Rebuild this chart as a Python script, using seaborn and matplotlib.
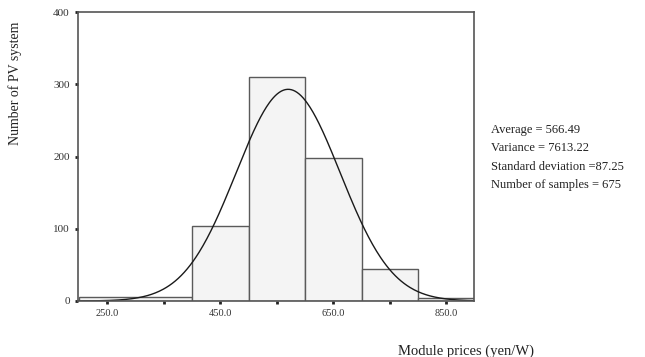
import numpy as np
import pandas as pd
import matplotlib
matplotlib.use("Agg")
import matplotlib.pyplot as plt
import seaborn as sns

# ---- data ----
bin_edges = [200, 400, 500, 600, 700, 800, 900]
bin_counts = [6, 104, 310, 198, 44, 4]
x_major_ticks = [250, 450, 650, 850]
x_tick_labels = ["250.0", "450.0", "650.0", "850.0"]
x_minor_ticks = [350, 550, 750]
y_ticks = [0, 100, 200, 300, 400]
stats_lines = ["Average = 566.49", "Variance = 7613.22",
               "Standard deviation =87.25", "Number of samples = 675"]
curve_center = 570.0
curve_sd = 92.0
curve_peak = 293.0

sns.set_theme(style="white")
plt.rcParams["font.family"] = ["Liberation Serif", "DejaVu Serif"]

fig = plt.figure(figsize=(6.45, 3.57), dpi=100)
ax = fig.add_axes([78 / 645, 1 - 301 / 357, (474 - 78) / 645, (301 - 12) / 357])

centers = [(a + b) / 2 for a, b in zip(bin_edges[:-1], bin_edges[1:])]
df = pd.DataFrame({"price": centers, "count": bin_counts})
sns.histplot(data=df, x="price", weights="count", bins=bin_edges, ax=ax,
             color="#f4f4f4", edgecolor="#5a5a5a", linewidth=1.0, alpha=1.0)

xs = np.linspace(200, 900, 400)
ys = curve_peak * np.exp(-((xs - curve_center) ** 2) / (2 * curve_sd ** 2))
sns.lineplot(x=xs, y=ys, ax=ax, color="#1a1a1a", linewidth=1.0)

ax.set_xlim(198, 899)
ax.set_ylim(0, 400)
ax.set_xticks(x_major_ticks)
ax.set_xticklabels(x_tick_labels)
ax.set_xticks(x_minor_ticks, minor=True)
ax.set_yticks(y_ticks)
ax.set_yticklabels([str(v) for v in y_ticks])
ax.tick_params(axis="both", which="both", direction="out", length=2, width=2,
               color="#222222", labelcolor="#333333",
               bottom=True, left=True)
ax.tick_params(axis="x", labelsize=7.5, pad=4)
ax.tick_params(axis="y", labelsize=8, pad=4)
for s in ax.spines.values():
    s.set_visible(True)
    s.set_color("#555555")
    s.set_linewidth(1.2)
ax.set_xlabel("")
ax.set_ylabel("")
ax.grid(False)

fig.text(15 / 645, 1 - 83 / 357, "Number of PV system", rotation=90,
         ha="center", va="center", fontsize=10, color="#222222")
fig.text(466 / 645, 1 - 351 / 357, "Module prices (yen/W)", ha="center",
         va="center", fontsize=10.5, color="#222222")
for i, line in enumerate(stats_lines):
    fig.text(491 / 645, 1 - (130 + i * 18.4) / 357, line, ha="left",
             va="center", fontsize=9, color="#222222")

fig.savefig("out.png", dpi=100)
